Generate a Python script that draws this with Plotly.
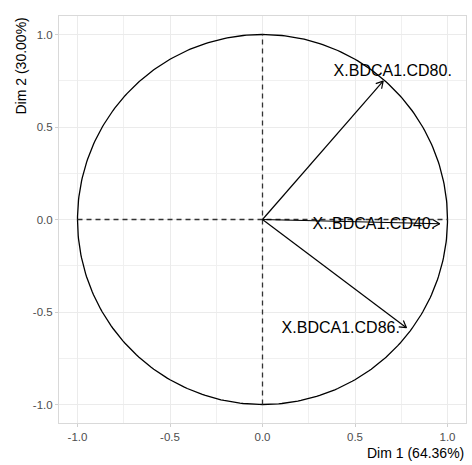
import numpy as np
import plotly.graph_objects as go

# Variable loadings on the first two principal dimensions
variables = ["X.BDCA1.CD80.", "X..BDCA1.CD40.", "X.BDCA1.CD86."]
dim1 = [0.652, 0.958, 0.778]
dim2 = [0.748, -0.023, -0.585]
# Label anchor points (data coordinates)
label_x = [0.704, 0.602, 0.423]
label_y = [0.795, -0.032, -0.591]

dim1_pct = 64.36
dim2_pct = 30.00
ticks = [-1.0, -0.5, 0.0, 0.5, 1.0]
tick_text = ["-1.0", "-0.5", "0.0", "0.5", "1.0"]

FONT = "Liberation Sans, Arial, Helvetica, sans-serif"
fig = go.Figure()

# Correlation circle
theta = np.linspace(0, 2 * np.pi, 361)
fig.add_trace(go.Scatter(x=np.cos(theta), y=np.sin(theta), mode="lines",
                         line=dict(color="black", width=1.3),
                         hoverinfo="skip", showlegend=False))

# Dashed axes through the origin
fig.add_trace(go.Scatter(x=[-1, 1, None, 0, 0], y=[0, 0, None, -1, 1], mode="lines",
                         line=dict(color="#333333", width=1.3, dash="5px,4px"),
                         hoverinfo="skip", showlegend=False))

# Arrows: shaft plus two open head strokes
head_len = 0.042
head_ang = np.deg2rad(30)
xs, ys = [], []
for x1, y1 in zip(dim1, dim2):
    ang = np.arctan2(y1, x1)
    xs += [0, x1, None]
    ys += [0, y1, None]
    for s in (1, -1):
        a = ang + np.pi + s * head_ang
        xs += [x1, x1 + head_len * np.cos(a), None]
        ys += [y1, y1 + head_len * np.sin(a), None]
fig.add_trace(go.Scatter(x=xs, y=ys, mode="lines",
                         line=dict(color="black", width=1.2),
                         hoverinfo="skip", showlegend=False))

# Variable names
fig.add_trace(go.Scatter(x=label_x, y=label_y, mode="text", text=variables,
                         textposition="middle center",
                         textfont=dict(family=FONT, size=16, color="black"),
                         hoverinfo="skip", showlegend=False))

axis_common = dict(
    range=[-1.1, 1.1], tickvals=ticks, ticktext=tick_text,
    showgrid=True, gridcolor="#EBEBEB", gridwidth=1,
    minor=dict(dtick=0.25, tick0=-1.0, showgrid=True, gridcolor="#F0F0F0", gridwidth=0.8),
    zeroline=False, showline=True, linecolor="#D9D9D9", linewidth=1, mirror=True,
    ticks="outside", ticklen=3, tickcolor="#D0D0D0", tickwidth=1,
    tickfont=dict(family=FONT, size=11.5, color="#4D4D4D"),
)

fig.update_layout(
    width=472, height=465,
    margin=dict(l=59, r=6, t=16, b=42),
    paper_bgcolor="white", plot_bgcolor="white",
    xaxis=dict(**axis_common),
    yaxis=dict(**axis_common),
    annotations=[
        dict(text=f"Dim 1 ({dim1_pct:.2f}%)", xref="paper", yref="paper",
             x=1, y=0, xanchor="right", yanchor="top", yshift=-20, showarrow=False,
             font=dict(family=FONT, size=14, color="black")),
        dict(text=f"Dim 2 ({dim2_pct:.2f}%)", xref="paper", yref="paper",
             x=0, y=1, xanchor="center", yanchor="top", xshift=-39, showarrow=False,
             textangle=-90, font=dict(family=FONT, size=14, color="black")),
    ],
)

fig.write_html("out.html")
